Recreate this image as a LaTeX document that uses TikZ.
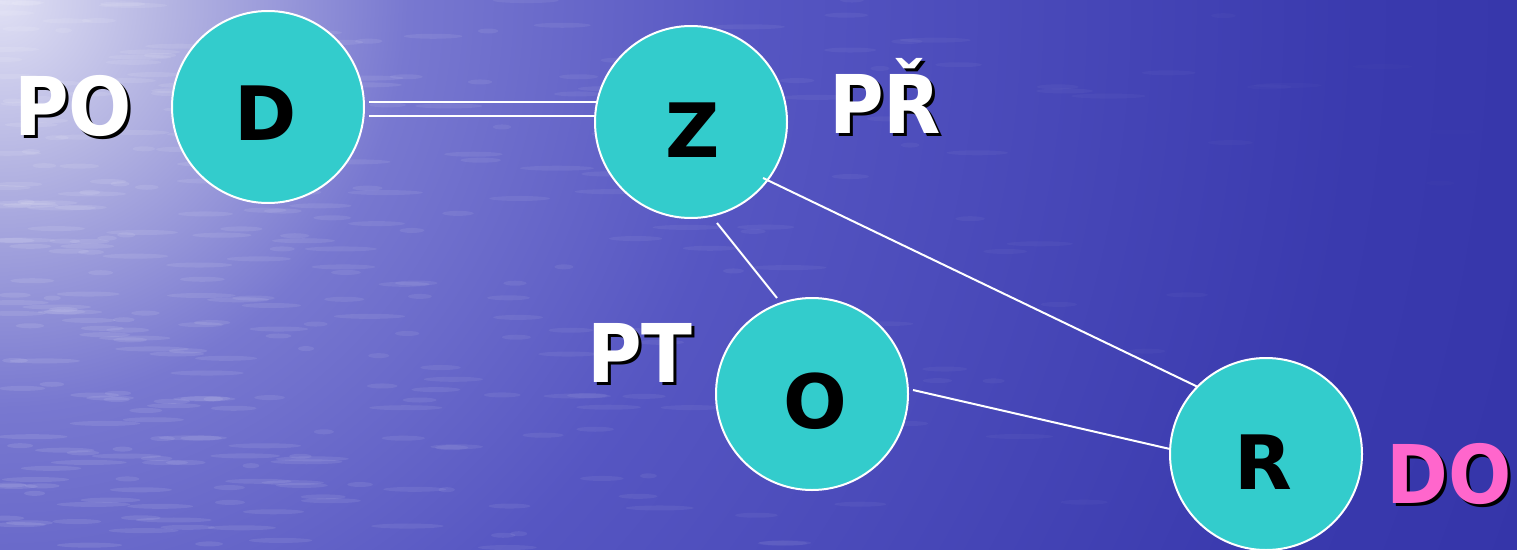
\documentclass[tikz,border=0pt]{standalone}
\usepackage{fontspec}
\setmainfont{DejaVu Sans}
\newfontfamily\lblfont{DejaVu Sans}[FakeStretch=0.92]
\usetikzlibrary{calc}
\pgfdeclarelayer{bg}
\pgfdeclarelayer{edges}
\pgfsetlayers{bg,edges,main}
\definecolor{ballfill}{HTML}{33CCCC}
\definecolor{pinktxt}{HTML}{FF66CC}
\definecolor{s0}{HTML}{E0E0F4}
\definecolor{s1}{HTML}{B4B4E2}
\definecolor{s2}{HTML}{7878D0}
\definecolor{s3}{HTML}{5656C2}
\definecolor{s4}{HTML}{3A3AAE}
\definecolor{s5}{HTML}{2A2A9E}
\pgfdeclareradialshading{sea}{\pgfpoint{0bp}{0bp}}{color(0bp)=(s0); color(2.5bp)=(s1); color(6bp)=(s2); color(11bp)=(s3); color(20bp)=(s4); color(32bp)=(s5); color(50bp)=(s5)}
\tikzset{
  ball/.style={circle, fill=ballfill, draw=white, line width=2pt, minimum size=192pt, inner sep=0pt},
  balltext/.style={anchor=base, inner sep=0pt, text=black, font=\fontsize{75}{75}\selectfont\bfseries},
  lbl/.style={anchor=base, inner sep=0pt, font=\lblfont\fontsize{81}{81}\selectfont\bfseries},
  edge/.style={draw=white, line width=2pt}
}
\begin{document}
\begin{tikzpicture}[x=1pt,y=-1pt]
\useasboundingbox (0,0) rectangle (1517,549);
\begin{pgfonlayer}{bg}
  \clip (0,0) rectangle (1517,549);
  \shade[shading=sea] (0,0) circle (1700);
  \pgfmathsetseed{7}
  \foreach \i in {1,...,350}{
    \pgfmathsetmacro\xx{rnd*rnd*1517}
    \pgfmathsetmacro\yy{rnd*549}
    \pgfmathsetmacro\ww{8+rnd*30}
    \pgfmathsetmacro\op{0.10*(1-\xx/1600)}
    \fill[white, opacity=\op] (\xx,\yy) ellipse ({\ww} and 2.5);
  }
\end{pgfonlayer}

% circles
\node[ball] (D) at (268,107) {};
\node[ball] (Z) at (691,122) {};
\node[ball] (O) at (812,394) {};
\node[ball] (R) at (1266,454) {};

\node[balltext] (Dt) at ($(D.center)+(-2,33)$) {D};
\node[balltext] (Zt) at ($(Z.center)+(2,35)$) {Z};
\node[balltext] (Ot) at ($(O.center)+(3,34)$) {O};
\node[balltext] (Rt) at ($(R.center)+(-3,35)$) {R};

% connectors
\begin{pgfonlayer}{edges}
  \draw[edge] ($(D.center)+(101,-5)$) -- ($(Z.center)+(-94,-20)$);
  \draw[edge] ($(D.center)+(101,9)$) -- ($(Z.center)+(-94,-6)$);
  \draw[edge] ($(Z.center)+(26,101)$) -- ($(O.center)+(-35,-96)$);
  \draw[edge] ($(O.center)+(101,-4)$) -- ($(R.center)+(-96,-5)$);
\end{pgfonlayer}
\draw[edge] ($(Z.center)+(72,56)$) -- ($(R.center)+(-68,-67)$);

% labels with shadows
\node[lbl, text=black] (POs) at (76,138) {PO};
\node[lbl, text=white] (PO) at (73,135) {PO};
\node[lbl, text=black] (PRs) at (888,136) {PŘ};
\node[lbl, text=white] (PR) at (885,133) {PŘ};
\node[lbl, text=black] (PTs) at (643,385) {PT};
\node[lbl, text=white] (PT) at (640,382) {PT};
\node[lbl, text=black] (DOs) at (1452,506) {DO};
\node[lbl, text=pinktxt] (DO) at (1449,503) {DO};
\end{tikzpicture}
\end{document}
